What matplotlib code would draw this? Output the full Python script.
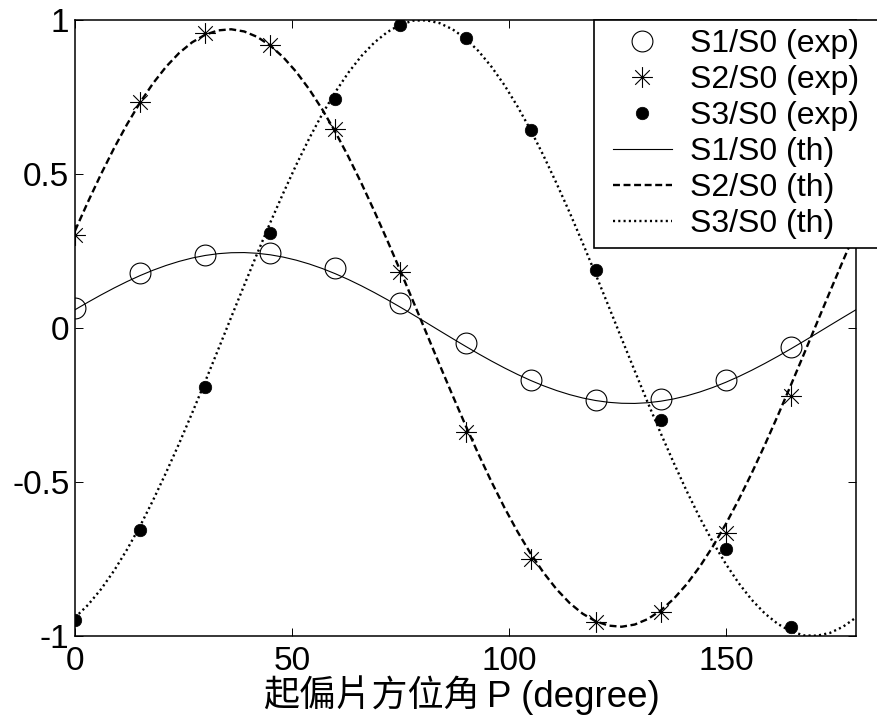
import matplotlib
matplotlib.use("Agg")
import matplotlib.pyplot as plt
from matplotlib.path import Path
from matplotlib.lines import Line2D
from matplotlib.legend_handler import HandlerLine2D

plt.rcParams['lines.scale_dashes'] = False

# Polarizer azimuth of the measurements (degree)
angle_exp = [0, 15, 30, 45, 60, 75, 90, 105, 120, 135, 150, 165]
s1_exp = [0.065, 0.178, 0.237, 0.243, 0.195, 0.081, -0.049, -0.169, -0.234, -0.229, -0.169, -0.062]
s2_exp = [0.302, 0.734, 0.958, 0.919, 0.646, 0.182, -0.338, -0.750, -0.955, -0.922, -0.666, -0.221]
s3_exp = [-0.948, -0.656, -0.191, 0.308, 0.743, 0.984, 0.941, 0.643, 0.188, -0.299, -0.718, -0.971]

# Theoretical curves, tabulated every 3 degrees from 0 to 180
angle_th = list(range(0, 181, 3))
s1_th = [0.0593, 0.0838, 0.1074, 0.1298, 0.1508, 0.1702, 0.1877, 0.2031, 0.2163, 0.2272,
         0.2355, 0.2413, 0.2444, 0.2449, 0.2426, 0.2377, 0.2302, 0.2202, 0.2078, 0.1931,
         0.1762, 0.1575, 0.1370, 0.1150, 0.0918, 0.0675, 0.0425, 0.0171, -0.0086, -0.0341,
         -0.0593, -0.0838, -0.1074, -0.1298, -0.1508, -0.1702, -0.1877, -0.2031, -0.2163, -0.2272,
         -0.2355, -0.2413, -0.2444, -0.2449, -0.2426, -0.2377, -0.2302, -0.2202, -0.2078, -0.1931,
         -0.1762, -0.1575, -0.1370, -0.1150, -0.0918, -0.0675, -0.0425, -0.0171, 0.0086, 0.0341,
         0.0593]
s2_th = [0.3158, 0.4099, 0.4996, 0.5838, 0.6615, 0.7321, 0.7946, 0.8484, 0.8929, 0.9276,
         0.9522, 0.9663, 0.9699, 0.9628, 0.9451, 0.9172, 0.8791, 0.8315, 0.7747, 0.7094,
         0.6364, 0.5564, 0.4703, 0.3790, 0.2836, 0.1851, 0.0845, -0.0169, -0.1182, -0.2182,
         -0.3158, -0.4099, -0.4996, -0.5838, -0.6615, -0.7321, -0.7946, -0.8484, -0.8929, -0.9276,
         -0.9522, -0.9663, -0.9699, -0.9628, -0.9451, -0.9172, -0.8791, -0.8315, -0.7747, -0.7094,
         -0.6364, -0.5564, -0.4703, -0.3790, -0.2836, -0.1851, -0.0845, 0.0169, 0.1182, 0.2182,
         0.3158]
s3_th = [-0.940, -0.899, -0.848, -0.788, -0.719, -0.643, -0.559, -0.469, -0.375, -0.276,
         -0.174, -0.070, 0.035, 0.139, 0.242, 0.342, 0.438, 0.530, 0.616, 0.695,
         0.766, 0.829, 0.883, 0.927, 0.961, 0.985, 0.998, 0.999, 0.990, 0.970,
         0.940, 0.899, 0.848, 0.788, 0.719, 0.643, 0.559, 0.469, 0.375, 0.276,
         0.174, 0.070, -0.035, -0.139, -0.242, -0.342, -0.438, -0.530, -0.616, -0.695,
         -0.766, -0.829, -0.883, -0.927, -0.961, -0.985, -0.998, -0.999, -0.990, -0.970,
         -0.940]

labels = ["S1/S0 (exp)", "S2/S0 (exp)", "S3/S0 (exp)",
          "S1/S0 (th)", "S2/S0 (th)", "S3/S0 (th)"]
xticks = [0, 50, 100, 150]
yticks = [-1, -0.5, 0, 0.5, 1]
ytick_labels = ["-1", "-0.5", "0", "0.5", "1"]
xlabel_cjk = "起偏片方位角"
xlabel_latin = "P (degree)"

LATIN = "Liberation Sans"
CJK = "Noto Sans CJK TC"
TICK_FS = 24
LEG_FS = 23

# asterisk marker: plus sign combined with a smaller cross
asterisk = Path([(0, -1), (0, 1), (-1, 0), (1, 0),
                 (-0.7, -0.7), (0.7, 0.7), (-0.7, 0.7), (0.7, -0.7)],
                [Path.MOVETO, Path.LINETO] * 4)

W, H = 878, 722
fig = plt.figure(figsize=(W / 100, H / 100), dpi=100)
ax = fig.add_axes([75 / W, 1 - 636 / H, (856 - 75) / W, (636 - 20) / H])

h1, = ax.plot(angle_exp, s1_exp, linestyle="none", marker="o", ms=15, mfc="none",
              mec="black", mew=0.8)
h2, = ax.plot(angle_exp, s2_exp, linestyle="none", marker=asterisk, ms=15, mfc="none",
              mec="black", mew=0.8)
h3, = ax.plot(angle_exp, s3_exp, linestyle="none", marker="o", ms=9, mfc="black",
              mec="black", mew=0.5)
h4, = ax.plot(angle_th, s1_th, color="black", lw=0.8, linestyle="-")
h5, = ax.plot(angle_th, s2_th, color="black", lw=1.7, dashes=(5.0, 2.6))
h6, = ax.plot(angle_th, s3_th, color="black", lw=1.7, dashes=(1.5, 2.3))

ax.set_xlim(0, 180)
ax.set_ylim(-1, 1)
ax.set_xticks(xticks)
ax.set_xticklabels([str(t) for t in xticks], fontfamily=LATIN, fontsize=TICK_FS)
ax.set_yticks(yticks)
ax.set_yticklabels(ytick_labels, fontfamily=LATIN, fontsize=TICK_FS)
ax.tick_params(axis="both", direction="in", length=6, width=0.7, color="black",
               top=True, right=True)
ax.tick_params(axis="x", pad=7)
ax.tick_params(axis="y", pad=4)
for sp in ax.spines.values():
    sp.set_linewidth(1.1)
    sp.set_color("black")

# axis title: Chinese part and Latin part set side by side
fig.text(480 / W, 1 - 707 / H, xlabel_cjk, family=[CJK], fontsize=26,
         ha="right", va="baseline")
fig.text(487 / W, 1 - 707 / H, xlabel_latin, family=[LATIN], fontsize=26.5,
         ha="left", va="baseline")

leg = fig.legend([h1, h2, h3, h4, h5, h6], labels, loc="upper left",
                 bbox_to_anchor=(594 / W, 1 - 247 / H, 320 / W, 227 / H),
                 mode="expand", borderaxespad=0, numpoints=1,
                 prop={"family": LATIN, "size": LEG_FS}, handlelength=2.15,
                 handletextpad=0.56, labelspacing=0.19, borderpad=0.28,
                 fancybox=False, framealpha=1, edgecolor="black",
                 handler_map={Line2D: HandlerLine2D(xpad=0.3)})
leg.get_frame().set_linewidth(1.2)

fig.savefig("out.png", dpi=100)
